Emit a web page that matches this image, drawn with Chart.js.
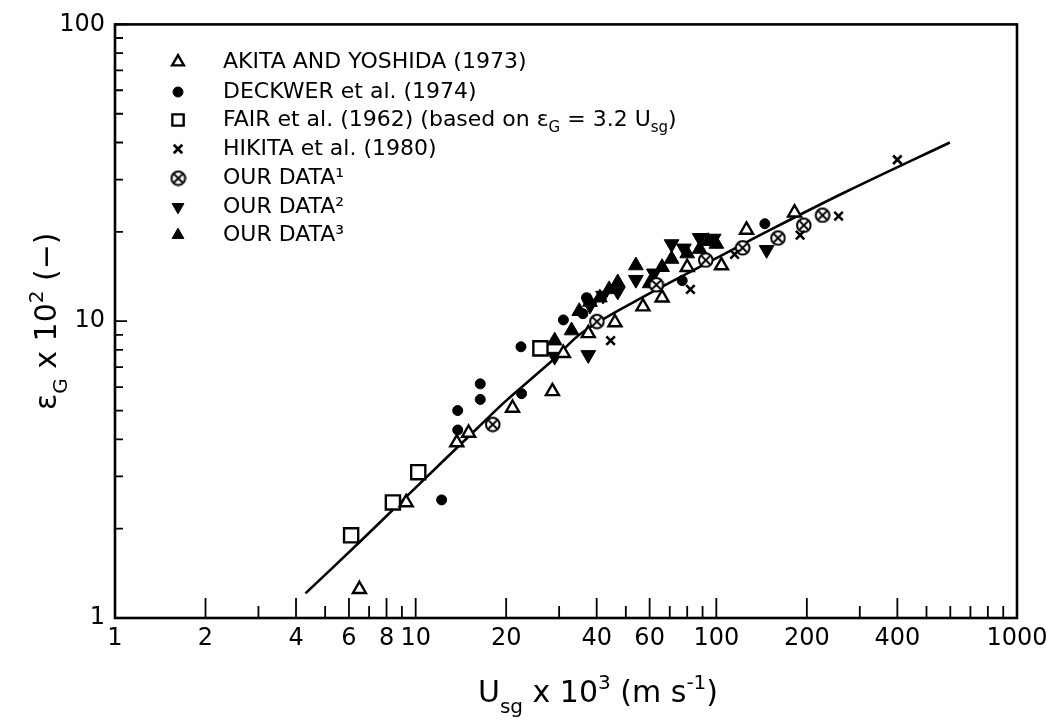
<!DOCTYPE html>
<html>
<head>
<meta charset="utf-8">
<script src="https://cdn.jsdelivr.net/npm/chart.js@4.4.0/dist/chart.umd.min.js"></script>
<style>
  html, body { margin: 0; padding: 0; background: #fff; }
  #wrap { width: 1054px; height: 726px; }
</style>
</head>
<body>
<div id="wrap"><canvas id="chart"></canvas></div>
<script>
// [Usg x 10^3, eps_G x 10^2] pairs
const akita = [[6.5, 1.25], [9.3, 2.45], [13.7, 3.9], [15.0, 4.2], [21, 5.1], [28.5, 5.8], [31, 7.8],
  [37.5, 9.1], [46, 9.9], [57, 11.2], [66, 12.0], [80, 15.2], [104, 15.4], [126, 20.3], [182, 23.2]];
const deckwer = [[12.2, 2.5], [13.8, 5.0], [13.8, 4.3], [16.4, 6.15], [16.4, 5.45], [22.5, 5.7], [22.4, 8.2],
  [31, 10.1], [36, 10.6], [37, 12], [77, 13.7], [145, 21.3]];
const fair = [[6.1, 1.9], [8.4, 2.45], [10.2, 3.1], [26, 8.1]];
const hikita = [[44.5, 8.6], [82, 12.8], [115, 16.8], [190, 19.5], [255, 22.6], [400, 35]];
const ourData1 = [[18, 4.5], [40, 10], [63, 13.3], [92, 16.1], [122, 17.7], [160, 19.1], [195, 21.1], [225, 22.8]];
const ourData2 = [[29, 7.6], [37.5, 7.7], [38, 11.3], [42, 12.2], [47, 12.6], [54, 13.8], [62, 14.5], [71, 18.2],
  [78, 17.6], [88, 19.1], [98, 19], [147, 17.4]];
const ourData3 = [[29, 8.6], [33, 9.3], [35, 10.8], [38, 11.6], [41, 12], [44, 12.8], [47, 13.5], [54, 15.4],
  [60, 13.4], [66, 15.2], [71, 16.2], [80, 16.9], [88, 17.5], [94, 18.6], [100, 18.2]];
const fitX = [4.3, 6.5, 10, 16, 20, 28.6, 36, 60, 100, 151, 272, 598];
const fitY = [1.21, 1.8, 2.75, 4.35, 5.4, 7.4, 9.2, 12.4, 16.3, 20.3, 27.4, 40];

const xTickLabels = [1, 2, 4, 6, 8, 10, 20, 40, 60, 100, 200, 400, 1000];
const xMinorTicks = [3, 5, 7, 9, 30, 50, 70, 80, 90, 300, 500, 600, 700, 800, 900];
const yTickLabels = [1, 10, 100];
const yMinorTicks = [2, 3, 4, 5, 6, 7, 8, 9, 20, 30, 40, 50, 60, 70, 80, 90];

const FONT = 'DejaVu Sans';
const toPts = arr => arr.map(p => ({ x: p[0], y: p[1] }));

function otimes(r) {
  const s = 2 * r + 4;
  const c = document.createElement('canvas');
  c.width = s; c.height = s;
  const g = c.getContext('2d');
  g.lineWidth = 2;
  g.strokeStyle = '#000';
  g.fillStyle = '#fff';
  g.beginPath(); g.arc(s / 2, s / 2, r, 0, Math.PI * 2); g.fill(); g.stroke();
  const d = r * 0.62;
  g.beginPath();
  g.moveTo(s / 2 - d, s / 2 - d); g.lineTo(s / 2 + d, s / 2 + d);
  g.moveTo(s / 2 + d, s / 2 - d); g.lineTo(s / 2 - d, s / 2 + d);
  g.stroke();
  return c;
}
const otimesImg = otimes(6.8);

const series = [
  { label: 'AKITA AND YOSHIDA (1973)', data: akita, pointStyle: 'triangle', radius: 7.5, bg: '#fff', bw: 2.4 },
  { label: 'DECKWER et al. (1974)', data: deckwer, pointStyle: 'circle', radius: 5, bg: '#000', bw: 1 },
  { label: 'FAIR', data: fair, pointStyle: 'rect', radius: 10, bg: '#fff', bw: 2.4 },
  { label: 'HIKITA et al. (1980)', data: hikita, pointStyle: 'crossRot', radius: 6, bg: '#000', bw: 2.6 },
  { label: 'OUR DATA¹', data: ourData1, pointStyle: otimesImg, radius: 7, bg: '#fff', bw: 1 },
  { label: 'OUR DATA²', data: ourData2, pointStyle: 'triangle', rotation: 180, radius: 8.5, bg: '#000', bw: 1 },
  { label: 'OUR DATA³', data: ourData3, pointStyle: 'triangle', radius: 8.5, bg: '#000', bw: 1 }
];

const datasets = series.map((s, i) => ({
  type: 'scatter',
  label: s.label,
  data: toPts(s.data),
  pointStyle: s.pointStyle,
  pointRotation: s.rotation || 0,
  pointRadius: s.radius,
  pointBackgroundColor: s.bg,
  pointBorderColor: '#000',
  pointBorderWidth: s.bw,
  order: i + 1
}));
datasets.push({
  type: 'line',
  label: 'fit',
  data: fitX.map((x, i) => ({ x: x, y: fitY[i] })),
  borderColor: '#000',
  borderWidth: 2.6,
  pointRadius: 0,
  tension: 0.35,
  fill: false,
  order: 20
});

// text with sub/superscripts: parts = [[text, 'n'|'sub'|'sup'], ...]
function richText(ctx, parts, x, y, size, align) {
  const widths = parts.map(p => {
    ctx.font = (p[1] === 'n' ? size : Math.round(size * 0.68)) + 'px "' + FONT + '"';
    return ctx.measureText(p[0]).width;
  });
  const total = widths.reduce((a, b) => a + b, 0);
  let cx = align === 'center' ? x - total / 2 : x;
  parts.forEach((p, i) => {
    const small = p[1] !== 'n';
    ctx.font = (small ? Math.round(size * 0.68) : size) + 'px "' + FONT + '"';
    const dy = p[1] === 'sub' ? size * 0.35 : p[1] === 'sup' ? -size * 0.42 : 0;
    ctx.fillText(p[0], cx, y + dy);
    cx += widths[i];
  });
}

const decor = {
  id: 'decor',
  afterDraw(chart) {
    const { ctx, chartArea: a, scales: { x, y } } = chart;
    ctx.save();
    ctx.strokeStyle = '#000';
    ctx.fillStyle = '#000';
    // frame
    ctx.lineWidth = 2.6;
    ctx.strokeRect(a.left, a.top, a.right - a.left, a.bottom - a.top);
    // inward ticks
    ctx.lineWidth = 1.8;
    ctx.beginPath();
    xTickLabels.forEach(v => {
      const p = x.getPixelForValue(v);
      ctx.moveTo(p, a.bottom); ctx.lineTo(p, a.bottom - 20);
    });
    xMinorTicks.forEach(v => {
      const p = x.getPixelForValue(v);
      ctx.moveTo(p, a.bottom); ctx.lineTo(p, a.bottom - 12);
    });
    yTickLabels.forEach(v => {
      const p = y.getPixelForValue(v);
      ctx.moveTo(a.left, p); ctx.lineTo(a.left + 12, p);
    });
    yMinorTicks.forEach(v => {
      const p = y.getPixelForValue(v);
      ctx.moveTo(a.left, p); ctx.lineTo(a.left + 8, p);
    });
    ctx.stroke();

    // legend
    const rowY = [62, 92, 120, 149, 178, 207, 235];
    ctx.textBaseline = 'middle';
    ctx.textAlign = 'left';
    series.forEach((s, i) => {
      ctx.fillStyle = s.bg;
      ctx.strokeStyle = '#000';
      ctx.lineWidth = s.bw;
      const r = s.pointStyle === 'rect' ? 8 : Math.min(s.radius, 6.8);
      Chart.helpers.drawPoint(ctx, { pointStyle: s.pointStyle, rotation: s.rotation || 0, radius: r, borderWidth: s.bw }, 178, rowY[i]);
      ctx.fillStyle = '#000';
      if (s.label === 'FAIR') {
        richText(ctx, [['FAIR et al. (1962) (based on ε', 'n'], ['G', 'sub'], [' = 3.2 U', 'n'], ['sg', 'sub'], [')', 'n']], 223, rowY[i], 22, 'left');
      } else {
        ctx.font = '22px "' + FONT + '"';
        ctx.fillText(s.label, 223, rowY[i]);
      }
    });

    // axis titles
    ctx.textBaseline = 'alphabetic';
    ctx.fillStyle = '#000';
    richText(ctx, [['U', 'n'], ['sg', 'sub'], [' x 10', 'n'], ['3', 'sup'], [' (m s', 'n'], ['-1', 'sup'], [')', 'n']], 598, 702, 30, 'center');
    ctx.translate(56, (a.top + a.bottom) / 2);
    ctx.rotate(-Math.PI / 2);
    richText(ctx, [['ε', 'n'], ['G', 'sub'], [' x 10', 'n'], ['2', 'sup'], [' (−)', 'n']], 0, 0, 30, 'center');
    ctx.restore();
  }
};

new Chart(document.getElementById('chart').getContext('2d'), {
  data: { datasets: datasets },
  options: {
    responsive: true,
    maintainAspectRatio: false,
    animation: false,
    layout: { padding: { top: 20, right: 37, left: 0, bottom: 0 } },
    plugins: { legend: { display: false }, tooltip: { enabled: false } },
    scales: {
      x: {
        type: 'logarithmic',
        min: 1,
        max: 1000,
        afterFit: s => { s.height = 108; },
        afterBuildTicks: s => { s.ticks = xTickLabels.map(v => ({ value: v })); },
        grid: { display: false, drawTicks: false },
        border: { display: false },
        ticks: {
          autoSkip: false,
          maxRotation: 0,
          padding: 6,
          color: '#000',
          font: { family: FONT, size: 24 },
          callback: v => String(v)
        }
      },
      y: {
        type: 'logarithmic',
        min: 1,
        max: 100,
        afterFit: s => { s.width = 115; },
        afterBuildTicks: s => { s.ticks = yTickLabels.map(v => ({ value: v })); },
        grid: { display: false, drawTicks: false },
        border: { display: false },
        ticks: {
          autoSkip: false,
          padding: 10,
          color: '#000',
          font: { family: FONT, size: 24 },
          callback: v => String(v)
        }
      }
    }
  },
  plugins: [decor]
});
</script>
</body>
</html>
